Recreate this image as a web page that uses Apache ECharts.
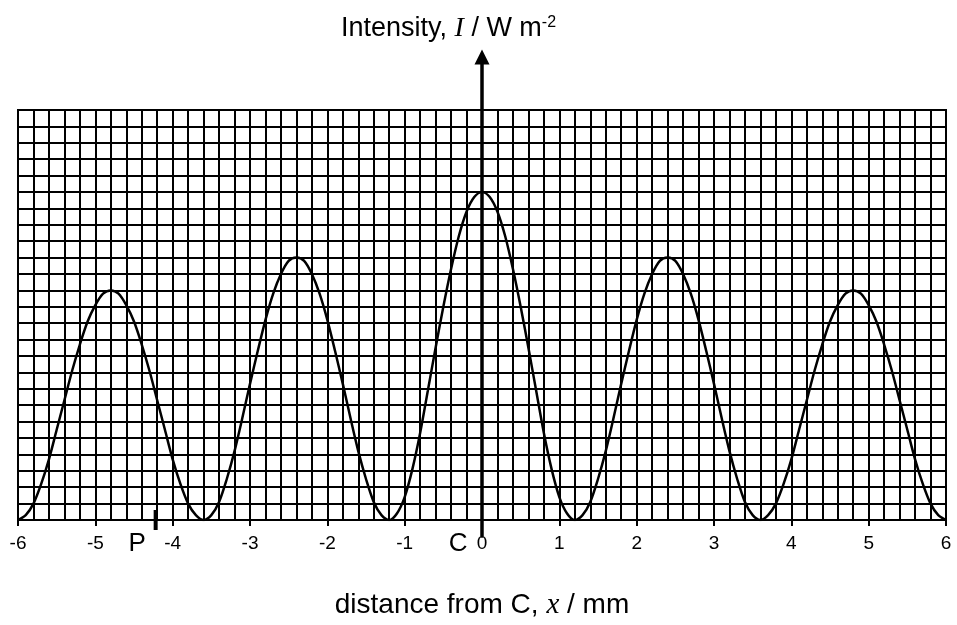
<!DOCTYPE html>
<html>
<head>
<meta charset="utf-8">
<script src="https://cdn.jsdelivr.net/npm/echarts@6/dist/echarts.min.js"></script>
<style>
  html, body { margin: 0; padding: 0; background: #fff; }
  #main { width: 957px; height: 625px; }
</style>
</head>
<body>
<div id="main"></div>
<script>
// distance from C, x / mm
var positions = [
  -6.0, -5.9, -5.8, -5.7, -5.6, -5.5, -5.4, -5.3, -5.2, -5.1,
  -5.0, -4.9, -4.8, -4.7, -4.6, -4.5, -4.4, -4.3, -4.2, -4.1,
  -4.0, -3.9, -3.8, -3.7, -3.6, -3.5, -3.4, -3.3, -3.2, -3.1,
  -3.0, -2.9, -2.8, -2.7, -2.6, -2.5, -2.4, -2.3, -2.2, -2.1,
  -2.0, -1.9, -1.8, -1.7, -1.6, -1.5, -1.4, -1.3, -1.2, -1.1,
  -1.0, -0.9, -0.8, -0.7, -0.6, -0.5, -0.4, -0.3, -0.2, -0.1,
  0.0, 0.1, 0.2, 0.3, 0.4, 0.5, 0.6, 0.7, 0.8, 0.9,
  1.0, 1.1, 1.2, 1.3, 1.4, 1.5, 1.6, 1.7, 1.8, 1.9,
  2.0, 2.1, 2.2, 2.3, 2.4, 2.5, 2.6, 2.7, 2.8, 2.9,
  3.0, 3.1, 3.2, 3.3, 3.4, 3.5, 3.6, 3.7, 3.8, 3.9,
  4.0, 4.1, 4.2, 4.3, 4.4, 4.5, 4.6, 4.7, 4.8, 4.9,
  5.0, 5.1, 5.2, 5.3, 5.4, 5.5, 5.6, 5.7, 5.8, 5.9,
  6.0
];
// intensity in grid squares (axis goes up to 25 squares)
var intensity = [
  0, 0.3, 1.0, 2.2, 3.7, 5.5, 7.3, 9.1, 10.7, 12.1,
  13.1, 13.8, 14, 13.8, 13.1, 12.1, 10.7, 9.1, 7.3, 5.5,
  3.7, 2.2, 1.0, 0.3, 0, 0.3, 1.1, 2.5, 4.2, 6.2,
  8.3, 10.3, 12.2, 13.8, 15.0, 15.8, 16, 15.8, 15.0, 13.8,
  12.2, 10.3, 8.3, 6.2, 4.2, 2.5, 1.1, 0.3, 0, 0.4,
  1.4, 3.1, 5.3, 7.9, 10.5, 13.0, 15.3, 17.3, 18.8, 19.7,
  20, 19.7, 18.8, 17.3, 15.3, 13.0, 10.5, 7.9, 5.3, 3.1,
  1.4, 0.4, 0, 0.3, 1.1, 2.5, 4.2, 6.2, 8.3, 10.3,
  12.2, 13.8, 15.0, 15.8, 16, 15.8, 15.0, 13.8, 12.2, 10.3,
  8.3, 6.2, 4.2, 2.5, 1.1, 0.3, 0, 0.3, 1.0, 2.2,
  3.7, 5.5, 7.3, 9.1, 10.7, 12.1, 13.1, 13.8, 14, 13.8,
  13.1, 12.1, 10.7, 9.1, 7.3, 5.5, 3.7, 2.2, 1.0, 0.3,
  0
];
var xMin = -6, xMax = 6;
var yMax = 25;
var pointP = -4.22;   // position of the P mark on the x axis

var curveData = positions.map(function (x, i) {
  return [x, intensity[i]];
});

var myChart = echarts.init(document.getElementById('main'));

var option = {
  backgroundColor: '#fff',
  animation: false,
  textStyle: { fontFamily: 'Liberation Sans', color: '#000' },
  title: {
    left: 336,
    top: 10,
    text: '{n|Intensity, }{i|I}{n| / W m}{s|-2}',
    textStyle: {
      fontWeight: 'normal',
      rich: {
        n: { fontFamily: 'Liberation Sans', fontSize: 27, fontWeight: 'normal', color: '#000' },
        i: { fontFamily: 'Liberation Serif', fontStyle: 'italic', fontSize: 28, fontWeight: 'normal', color: '#000' },
        s: { fontFamily: 'Liberation Sans', fontSize: 16, fontWeight: 'normal', color: '#000', verticalAlign: 'top', padding: [0, 0, 10, 0] }
      }
    }
  },
  grid: [
    { left: 18, right: 11, top: 110, bottom: 98, show: true, borderColor: '#000', borderWidth: 2 },
    { left: 18, right: 11, top: 57, bottom: 89 }
  ],
  xAxis: [
    { // fine grid, 0.2 mm squares
      type: 'value', gridIndex: 0, min: xMin, max: xMax, interval: 0.2,
      axisLine: { show: false }, axisTick: { show: false }, axisLabel: { show: false },
      splitLine: { show: true, lineStyle: { color: '#000', width: 2 } }
    },
    { // labelled axis
      type: 'value', gridIndex: 0, min: xMin, max: xMax, interval: 1,
      position: 'bottom',
      axisLine: { show: true, onZero: false, lineStyle: { color: '#000', width: 2 } },
      axisTick: { show: true, length: 6, lineStyle: { color: '#000', width: 2 } },
      axisLabel: { show: true, margin: 14, fontSize: 19, color: '#000', fontFamily: 'Liberation Sans' },
      splitLine: { show: false },
      name: '{n|distance from C, }{i|x}{n| / mm}',
      nameLocation: 'middle',
      nameGap: 71,
      nameTextStyle: {
        rich: {
          n: { fontFamily: 'Liberation Sans', fontSize: 28, color: '#000' },
          i: { fontFamily: 'Liberation Serif', fontStyle: 'italic', fontSize: 29, color: '#000' }
        }
      }
    },
    { // helper for the vertical arrow
      type: 'value', gridIndex: 1, min: xMin, max: xMax, show: false
    }
  ],
  yAxis: [
    {
      type: 'value', gridIndex: 0, min: 0, max: yMax, interval: 1,
      axisLine: { show: false }, axisTick: { show: false }, axisLabel: { show: false },
      splitLine: { show: true, lineStyle: { color: '#000', width: 2 } }
    },
    {
      type: 'value', gridIndex: 1, min: 0, max: 1,
      axisLine: {
        show: true, onZero: true,
        symbol: ['none', 'triangle'], symbolSize: [15, 15],
        lineStyle: { color: '#000', width: 3.5 }
      },
      axisTick: { show: false }, axisLabel: { show: false }, splitLine: { show: false }
    }
  ],
  series: [
    {
      name: 'intensity',
      type: 'line',
      xAxisIndex: 0,
      yAxisIndex: 0,
      data: curveData,
      smooth: 0.3,
      showSymbol: false,
      z: 5,
      lineStyle: { color: '#000', width: 2.5 }
    }
  ]
};

myChart.setOption(option);

// P mark and C / P letters under the axis
var pBase = myChart.convertToPixel({ xAxisIndex: 0, yAxisIndex: 0 }, [pointP, 0]);
var pText = myChart.convertToPixel({ xAxisIndex: 0, yAxisIndex: 0 }, [-4.46, 0]);
var cText = myChart.convertToPixel({ xAxisIndex: 0, yAxisIndex: 0 }, [-0.31, 0]);
myChart.setOption({
  graphic: [
    {
      type: 'line', z: 20,
      shape: { x1: pBase[0], y1: pBase[1] - 10, x2: pBase[0], y2: pBase[1] + 10 },
      style: { stroke: '#000', lineWidth: 4 }
    },
    {
      type: 'text', z: 20, x: pText[0], y: pText[1] + 24,
      style: { text: 'P', fontSize: 26, fontFamily: 'Liberation Sans', fill: '#000', align: 'center', verticalAlign: 'middle' }
    },
    {
      type: 'text', z: 20, x: cText[0], y: cText[1] + 24,
      style: { text: 'C', fontSize: 26, fontFamily: 'Liberation Sans', fill: '#000', align: 'center', verticalAlign: 'middle' }
    }
  ]
});
</script>
</body>
</html>
